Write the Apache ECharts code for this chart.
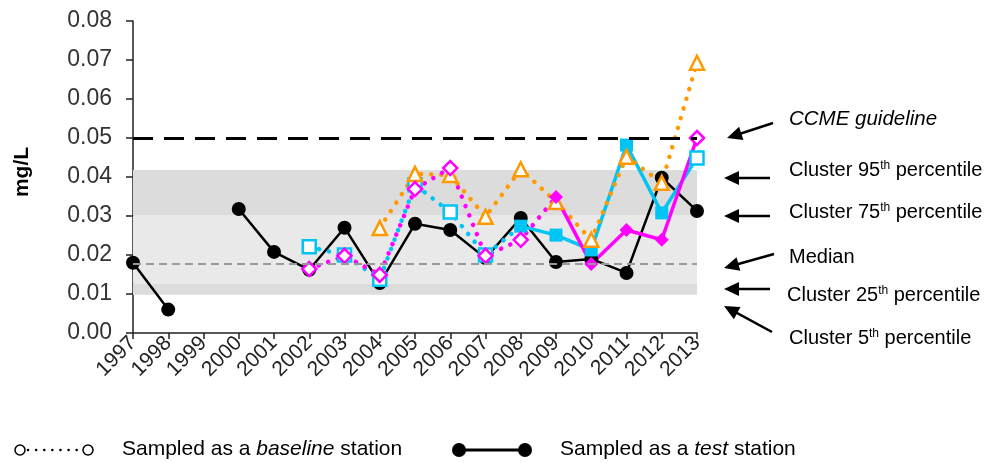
<!DOCTYPE html>
<html>
<head>
<meta charset="utf-8">
<script src="https://cdn.jsdelivr.net/npm/echarts@6/dist/echarts.min.js"></script>
<style>
  html, body { margin: 0; padding: 0; background: #fff; }
  #chart { width: 998px; height: 463px; }
</style>
</head>
<body>
<div id="chart"></div>
<script>
// years on the x axis
var years = ['1997', '1998', '1999', '2000', '2001', '2002', '2003', '2004', '2005',
  '2006', '2007', '2008', '2009', '2010', '2011', '2012', '2013'];

// station values, mg/L (null = not sampled)
var blackValues = [0.018, 0.006, null, 0.0318, 0.0208, 0.0162, 0.027, 0.0128, 0.028,
  0.0264, 0.0192, 0.0295, 0.0182, 0.019, 0.0154, 0.0398, 0.0313];
var blackKinds = ['t', 't', '', 't', 't', 't', 't', 't', 't', 't', 't', 't', 't', 't', 't', 't', 't'];

var cyanValues = [null, null, null, null, null, 0.0221, 0.020, 0.0138, 0.038,
  0.031, 0.020, 0.0274, 0.0251, 0.0213, 0.0482, 0.0308, 0.0449];
var cyanKinds = ['', '', '', '', '', 'b', 'b', 'b', 'b', 'b', 'b', 't', 't', 't', 't', 't', 'b'];

var orangeValues = [null, null, null, null, null, null, null, 0.0269, 0.0408,
  0.0405, 0.0298, 0.042, 0.0336, 0.0239, 0.0452, 0.0385, 0.0693];
var orangeKinds = ['', '', '', '', '', '', '', 'b', 'b', 'b', 'b', 'b', 'b', 'b', 'b', 'b', 'b'];

var magentaValues = [null, null, null, null, null, 0.0164, 0.0198, 0.0149, 0.0369,
  0.0423, 0.0198, 0.0239, 0.0349, 0.0177, 0.0264, 0.0239, 0.050];
var magentaKinds = ['', '', '', '', '', 'b', 'b', 'b', 'b', 'b', 'b', 'b', 't', 't', 't', 't', 'b'];

// cluster reference levels
var percentiles = [0.0098, 0.0127, 0.0301, 0.0418]; // 5th, 25th, 75th, 95th
var medianValue = 0.0178;
var guidelineValue = 0.05;

// b = sampled as baseline (dotted, hollow), t = sampled as test (solid, filled)
// a segment takes the style of the point it starts from
function lineData(values, kinds, kind) {
  return values.map(function (v, i) {
    if (v == null) return null;
    if (kinds[i] === kind) return v;
    if (i > 0 && kinds[i - 1] === kind) return v;
    return null;
  });
}
function markData(values, kinds, kind) {
  return values.map(function (v, i) {
    return kinds[i] === kind ? v : null;
  });
}

var dotted = { type: [0.1, 10], cap: 'round', width: 4.5 };

function station(values, kinds, color, symbol, size, solidWidth) {
  return [
    {
      type: 'line', z: 2, data: lineData(values, kinds, 'b'), showSymbol: false, silent: true,
      lineStyle: Object.assign({ color: color }, dotted)
    },
    {
      type: 'line', z: 2, data: lineData(values, kinds, 't'), showSymbol: false, silent: true,
      lineStyle: { color: color, width: solidWidth }
    },
    {
      type: 'scatter', z: 2, data: markData(values, kinds, 'b'), symbol: symbol, symbolSize: size,
      itemStyle: { color: '#fff', borderColor: color, borderWidth: 2.5, opacity: 1 }
    },
    {
      type: 'scatter', z: 2, data: markData(values, kinds, 't'), symbol: symbol, symbolSize: size,
      itemStyle: { color: color, opacity: 1 }
    }
  ];
}

function arrow(x1, y1, x2, y2) {
  var dx = x2 - x1, dy = y2 - y1, len = Math.sqrt(dx * dx + dy * dy);
  var ux = dx / len, uy = dy / len, hl = 15, hw = 7;
  var bx = x2 - ux * hl, by = y2 - uy * hl;
  return {
    type: 'group',
    children: [
      { type: 'line', shape: { x1: x1, y1: y1, x2: bx + ux * 2, y2: by + uy * 2 },
        style: { stroke: '#000', lineWidth: 2.5 } },
      { type: 'polygon', shape: { points: [[x2, y2], [bx - uy * hw, by + ux * hw], [bx + uy * hw, by - ux * hw]] },
        style: { fill: '#000' } }
    ]
  };
}

function note(x, y, parts) {
  return {
    type: 'text', x: x, y: y,
    style: {
      rich: {
        a: { fontSize: 20, fontFamily: 'Liberation Sans', fill: '#000', lineHeight: 26 },
        i: { fontSize: 20.5, fontFamily: 'Liberation Sans', fontStyle: 'italic', fill: '#000', lineHeight: 26 },
        s: { fontSize: 12, fontFamily: 'Liberation Sans', fill: '#000', lineHeight: 26, verticalAlign: 'top', padding: [3, 0, 0, 0] }
      },
      text: parts, verticalAlign: 'middle'
    }
  };
}

var chart = echarts.init(document.getElementById('chart'));

var series = [
  {
    type: 'line', z: 1, data: [], silent: true,
    markArea: {
      silent: true,
      data: [
        [{ yAxis: percentiles[0], itemStyle: { color: '#dcdcdc' } }, { yAxis: percentiles[1] }],
        [{ yAxis: percentiles[1], itemStyle: { color: '#e9e9e9' } }, { yAxis: percentiles[2] }],
        [{ yAxis: percentiles[2], itemStyle: { color: '#dcdcdc' } }, { yAxis: percentiles[3] }]
      ]
    },
    markLine: {
      silent: true, symbol: 'none', precision: 6, label: { show: false },
      data: [
        { yAxis: medianValue, lineStyle: { color: '#999', width: 2, type: [8, 5] } },
        { yAxis: guidelineValue, lineStyle: { color: '#000', width: 3, type: [20, 11] } }
      ]
    }
  }
];
series = series.concat(
  station(blackValues, blackKinds, '#000', 'circle', 14, 2.5),
  station(cyanValues, cyanKinds, '#00c4f4', 'rect', 13, 3.5),
  station(orangeValues, orangeKinds, '#ff9900', 'triangle', 14, 3),
  station(magentaValues, magentaKinds, '#ff00ff', 'diamond', 14, 3.5)
);

var option = {
  animation: false,
  grid: { left: 133, right: 301, top: 21, bottom: 130, outerBoundsMode: 'none' },
  xAxis: {
    type: 'category', data: years, boundaryGap: false,
    axisLine: { lineStyle: { color: '#222', width: 1.5 } },
    axisTick: { show: true, interval: 0, length: 6, lineStyle: { color: '#222', width: 1.5 } },
    axisLabel: { interval: 0, rotate: 45, fontSize: 21, color: '#222', fontFamily: 'Liberation Sans', margin: 7 },
    splitLine: { show: false }
  },
  yAxis: {
    type: 'value', min: 0, max: 0.08, interval: 0.01,
    axisLine: { show: true, lineStyle: { color: '#222', width: 1.5 } },
    axisTick: { show: true, length: 7, lineStyle: { color: '#222', width: 1.5 } },
    axisLabel: { fontSize: 23, color: '#333', fontFamily: 'Liberation Sans', margin: 21,
      formatter: function (v) { return v.toFixed(2); } },
    splitLine: { show: false }
  },
  series: series,
  graphic: [
    { type: 'text', x: 22, y: 172, rotation: Math.PI / 2,
      style: { text: 'mg/L', fontSize: 21, fontWeight: 'bold', fontFamily: 'Liberation Sans',
        fill: '#000', align: 'center', verticalAlign: 'middle' } },

    arrow(773, 123, 727, 138),
    arrow(770, 178, 724, 178),
    arrow(770, 216, 724, 216),
    arrow(774, 254, 724, 268),
    arrow(770, 289, 724, 289),
    arrow(772, 332, 724, 306),

    note(789, 119, '{i|CCME guideline}'),
    note(789, 170, '{a|Cluster 95}{s|th}{a| percentile}'),
    note(789, 212, '{a|Cluster 75}{s|th}{a| percentile}'),
    note(789, 257, '{a|Median}'),
    note(787, 295, '{a|Cluster 25}{s|th}{a| percentile}'),
    note(789, 338, '{a|Cluster 5}{s|th}{a| percentile}'),

    // legend
    { type: 'line', shape: { x1: 28, y1: 450, x2: 80, y2: 450 },
      style: { stroke: '#000', lineWidth: 2.5, lineDash: [0.1, 8], lineCap: 'round' } },
    { type: 'circle', shape: { cx: 20, cy: 450, r: 5 }, style: { fill: '#fff', stroke: '#000', lineWidth: 1.5 } },
    { type: 'circle', shape: { cx: 88, cy: 450, r: 5 }, style: { fill: '#fff', stroke: '#000', lineWidth: 1.5 } },
    { type: 'text', x: 122, y: 449, style: {
        rich: {
          a: { fontSize: 21, fontFamily: 'Liberation Sans', fill: '#000' },
          i: { fontSize: 21, fontFamily: 'Liberation Sans', fontStyle: 'italic', fill: '#000' }
        },
        text: '{a|Sampled as a }{i|baseline}{a| station}', verticalAlign: 'middle' } },
    { type: 'line', shape: { x1: 459, y1: 450, x2: 525, y2: 450 }, style: { stroke: '#000', lineWidth: 3 } },
    { type: 'circle', shape: { cx: 459, cy: 450, r: 7 }, style: { fill: '#000' } },
    { type: 'circle', shape: { cx: 525, cy: 450, r: 7 }, style: { fill: '#000' } },
    { type: 'text', x: 560, y: 449, style: {
        rich: {
          a: { fontSize: 21, fontFamily: 'Liberation Sans', fill: '#000' },
          i: { fontSize: 21, fontFamily: 'Liberation Sans', fontStyle: 'italic', fill: '#000' }
        },
        text: '{a|Sampled as a }{i|test}{a| station}', verticalAlign: 'middle' } }
  ]
};

chart.setOption(option);
</script>
</body>
</html>
